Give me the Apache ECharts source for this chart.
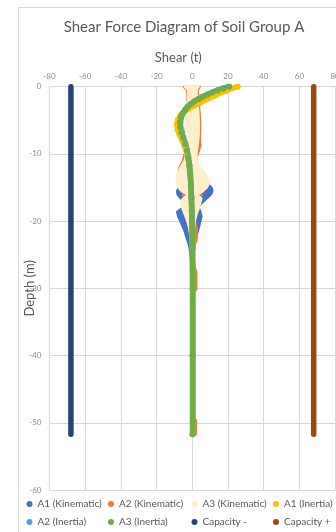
<!DOCTYPE html>
<html>
<head>
<meta charset="utf-8">
<script src="https://cdn.jsdelivr.net/npm/echarts@6/dist/echarts.min.js"></script>
<style>
  html, body { margin: 0; padding: 0; background: #ffffff; }
  #chart { width: 336px; height: 532px; }
</style>
</head>
<body>
<div id="chart"></div>
<script>
// Axis ticks
const shearTicks = [-80, -60, -40, -20, 0, 20, 40, 60, 80];
const depthTicks = [0, -10, -20, -30, -40, -50, -60];

// Kinematic envelopes: depth (m) with max / min shear (t) at each depth
const a1KinDepth = [-6, -7, -8, -8.8, -9.6, -10.5, -12, -13.5, -14.4, -15, -15.5, -16, -16.5, -17, -17.6, -18, -18.6, -19.3, -20, -21, -21.3, -22, -23.3, -24, -25, -26, -27];
const a1KinMax   = [3.6, 4.1, 4.0, 3.6, 3.1, 2.4, 3.0, 6.0, 8.5, 10.8, 11.4, 10.6, 8.8, 6.6, 4.2, 3.6, 4.6, 5.2, 4.6, 3.7, 3.4, 2.6, 1.5, 1.0, 0.6, 0.3, 0.2];
const a1KinMin   = [-3.6, -4.1, -3.9, -3.6, -3.4, -3.5, -4.5, -6.0, -6.5, -7.6, -8.6, -8.4, -7.0, -5.0, -4.2, -5.4, -8.6, -8.0, -6.8, -5.2, -4.6, -3.8, -2.2, -1.6, -1.1, -0.7, -0.4];

const a2KinDepth = [0, -0.5, -1, -2, -3, -4, -5, -6, -7, -8, -8.7, -9.5, -10, -10.6, -11, -12, -12.5, -13, -14, -15, -15.7, -16.1, -16.5, -17, -18, -20, -20.5, -21, -23, -23.5, -25, -27, -27.5, -30.2, -30.5, -49.5, -49.6, -51.7];
const a2KinMax   = [4.2, 3.2, 3.2, 3.5, 3.9, 4.2, 4.4, 4.5, 4.4, 4.3, 4.6, 3.8, 3.1, 2.4, 2.0, 3.5, 4.5, 5.0, 7.0, 6.5, 3.5, 5.4, 4.0, 3.5, 2.5, 1.5, 2.0, 2.6, 2.4, 1.0, 0.8, 1.5, 2.3, 2.3, 0.6, 0.6, 2.1, 2.1];
const a2KinMin   = [-4.9, -3.0, -2.8, -2.9, -3.1, -3.3, -3.5, -3.6, -3.5, -3.3, -3.3, -3.8, -4.3, -5.0, -5.3, -7.2, -7.6, -8.0, -8.4, -7.4, -4.0, -5.4, -3.8, -4.5, -4.5, -2.5, -1.8, -1.6, -1.0, -0.8, -0.5, -0.4, -0.4, -0.4, -0.4, -0.4, -0.4, -0.4];

const a3KinDepth = [0, -0.4, -1, -2, -3, -4, -5, -6, -7, -8, -9, -10, -11, -12, -13, -14, -14.5, -15, -15.6, -16.1, -16.6, -17, -18, -19, -20, -21, -22, -23, -24, -25];
const a3KinMax   = [3.6, 2.6, 2.5, 2.8, 3.2, 3.5, 3.7, 3.8, 3.7, 3.4, 2.9, 2.4, 2.6, 4.4, 7.4, 9.0, 9.2, 8.2, 5.8, 2.8, 5.2, 4.8, 3.8, 2.4, 1.5, 1.0, 0.6, 0.4, 0.3, 0.2];
const a3KinMin   = [-4.3, -2.6, -2.4, -2.7, -3.1, -3.4, -3.7, -3.8, -3.7, -3.5, -3.3, -3.5, -4.4, -6.6, -8.5, -8.8, -8.6, -7.8, -5.8, -2.4, -5.2, -6.2, -5.8, -4.3, -2.9, -1.9, -1.2, -0.8, -0.5, -0.3];

// Inertia shear profiles
const a1InDepth = [0, -0.25, -0.6, -0.9, -1.3, -1.7, -2.1, -2.5, -2.9, -3.3, -3.8, -4.3, -4.9, -5.6, -6.4, -7.2, -8.0, -8.8, -9.6, -10.5, -11.7, -13, -14.5, -16.5, -18.5, -21, -24, -30, -40, -51.7];
const a1InShear = [25.4, 22.0, 18.9, 15.7, 12.7, 9.5, 6.4, 3.4, 0.6, -2.2, -4.8, -6.8, -8.1, -8.6, -8.2, -7.1, -5.7, -4.4, -3.3, -2.5, -1.8, -1.2, -0.8, -0.5, -0.3, -0.1, 0.1, 0.2, 0.2, 0.2];

const a2InDepth = [0, -0.25, -0.55, -0.85, -1.15, -1.5, -1.85, -2.2, -2.6, -3.0, -3.5, -4.0, -4.6, -5.3, -6.0, -6.8, -7.6, -8.5, -9.5, -10.5, -11.7, -13, -14.5, -16.5, -18.5, -21, -24, -30, -40, -51.7];
const a2InShear = [20.4, 17.2, 14.0, 11.2, 8.5, 5.7, 3.4, 1.1, -0.9, -2.6, -4.1, -5.4, -6.3, -6.7, -6.6, -6.0, -5.0, -3.9, -2.9, -2.2, -1.6, -1.1, -0.8, -0.5, -0.3, -0.1, 0.1, 0.2, 0.2, 0.2];

const a3InDepth = [0, -0.25, -0.55, -0.85, -1.15, -1.5, -1.85, -2.2, -2.6, -3.0, -3.5, -4.0, -4.6, -5.3, -6.0, -6.8, -7.6, -8.5, -9.5, -10.5, -11.7, -13, -14.5, -16.5, -18.5, -21, -24, -30, -40, -51.7];
const a3InShear = [20.7, 17.4, 14.2, 11.4, 8.6, 5.8, 3.5, 1.2, -0.8, -2.6, -4.2, -5.5, -6.4, -6.9, -6.8, -6.2, -5.2, -4.0, -3.0, -2.3, -1.7, -1.2, -0.8, -0.5, -0.3, -0.1, 0.1, 0.2, 0.2, 0.2];

// Pile shear capacity
const capDepth = [0, -51.7];
const capNeg = [-68, -68];
const capPos = [68, 68];

const names = ['A1 (Kinematic)', 'A2 (Kinematic)', 'A3 (Kinematic)', 'A1 (Inertia)',
               'A2 (Inertia)', 'A3 (Inertia)', 'Capacity -', 'Capacity +'];
const colors = ['#4472C4', '#ED7D31', '#FEEFCC', '#FFC000', '#5B9BD5', '#70AD47', '#264478', '#9E480E'];

const FONT = 'Lato';
const TEXT_GREY = '#595959';

const pairs = (xs, ys) => xs.map((x, i) => [x, ys[i]]);

// Closed outline: down the max side, back up the min side
function outline(depth, maxs, mins) {
  const right = depth.map((d, i) => [maxs[i], d]);
  const left = depth.map((d, i) => [mins[i], d]).reverse();
  return right.concat(left);
}

function envelopeSeries(name, color, pts) {
  return {
    name: name,
    type: 'custom',
    itemStyle: { color: color },
    data: pts,
    encode: { x: 0, y: 1 },
    renderItem: function (params, api) {
      if (params.dataIndex !== 0) return null;
      const poly = pts.map(p => api.coord(p));
      return {
        type: 'polygon',
        shape: { points: poly },
        style: { fill: color, stroke: color, lineWidth: 2, lineJoin: 'round' }
      };
    }
  };
}

function profileSeries(name, color, xs, ys) {
  return {
    name: name,
    type: 'line',
    data: pairs(xs, ys),
    symbol: 'circle',
    symbolSize: 6,
    showSymbol: true,
    itemStyle: { color: color },
    lineStyle: { color: color, width: 5.5, cap: 'round', join: 'round' },
    emphasis: { disabled: true }
  };
}

// Legend laid out as a 4 x 2 grid of fixed columns
const legendCols = [26.5, 108, 191.5, 273];
const legendRows = [498, 516];
const legends = names.map((n, i) => ({
  data: [n],
  left: legendCols[i % 4],
  top: legendRows[Math.floor(i / 4)],
  icon: 'circle',
  itemWidth: 6,
  itemHeight: 6,
  padding: 0,
  textStyle: { color: TEXT_GREY, fontSize: 10, fontFamily: FONT, lineHeight: 12 }
}));

const chart = echarts.init(document.getElementById('chart'), null, { renderer: 'canvas' });

chart.setOption({
  animation: false,
  color: colors,
  textStyle: { fontFamily: FONT },
  title: {
    text: 'Shear Force Diagram of Soil Group A',
    left: 179,
    top: 15,
    textAlign: 'center',
    textStyle: { color: TEXT_GREY, fontSize: 15, fontWeight: 'normal', fontFamily: FONT }
  },
  graphic: [{
    type: 'rect',
    shape: { x: 18.5, y: 7.5, width: 400, height: 600 },
    style: { fill: 'none', stroke: '#d9d9d9', lineWidth: 1 },
    silent: true
  }],
  legend: legends,
  grid: { left: 49.5, right: 0.9, top: 86.7, bottom: 42, containLabel: false, outerBoundsMode: 'none' },
  xAxis: {
    type: 'value',
    position: 'top',
    min: shearTicks[0],
    max: shearTicks[shearTicks.length - 1],
    interval: 20,
    name: 'Shear (t)',
    nameLocation: 'middle',
    nameGap: 22,
    nameMoveOverlap: false,
    nameTextStyle: { color: TEXT_GREY, fontSize: 13, fontFamily: FONT, padding: [0, 28, 0, 0] },
    axisLine: { show: true, lineStyle: { color: '#d9d9d9' } },
    axisTick: { show: false },
    axisLabel: { color: '#8c8c8c', fontSize: 8, margin: 6, fontFamily: FONT, showMinLabel: true, showMaxLabel: true, hideOverlap: false },
    splitLine: { show: true, lineStyle: { color: '#d9d9d9', width: 1 } }
  },
  yAxis: {
    type: 'value',
    min: depthTicks[depthTicks.length - 1],
    max: depthTicks[0],
    interval: 10,
    name: 'Depth (m)',
    nameLocation: 'middle',
    nameGap: 13,
    nameMoveOverlap: false,
    nameTextStyle: { color: TEXT_GREY, fontSize: 13, fontFamily: FONT },
    axisLine: { show: true, lineStyle: { color: '#d9d9d9' } },
    axisTick: { show: false },
    axisLabel: { color: '#8c8c8c', fontSize: 8, margin: 8, fontFamily: FONT },
    splitLine: { show: true, lineStyle: { color: '#d9d9d9', width: 1 } }
  },
  series: [
    envelopeSeries(names[0], colors[0], outline(a1KinDepth, a1KinMax, a1KinMin)),
    envelopeSeries(names[1], colors[1], outline(a2KinDepth, a2KinMax, a2KinMin)),
    envelopeSeries(names[2], colors[2], outline(a3KinDepth, a3KinMax, a3KinMin)),
    profileSeries(names[3], colors[3], a1InShear, a1InDepth),
    profileSeries(names[4], colors[4], a2InShear, a2InDepth),
    profileSeries(names[5], colors[5], a3InShear, a3InDepth),
    {
      name: names[6], type: 'line', data: pairs(capNeg, capDepth), showSymbol: false,
      itemStyle: { color: colors[6] },
      lineStyle: { color: colors[6], width: 5.5, cap: 'round' }
    },
    {
      name: names[7], type: 'line', data: pairs(capPos, capDepth), showSymbol: false,
      itemStyle: { color: colors[7] },
      lineStyle: { color: colors[7], width: 5.5, cap: 'round' }
    }
  ]
});
</script>
</body>
</html>
